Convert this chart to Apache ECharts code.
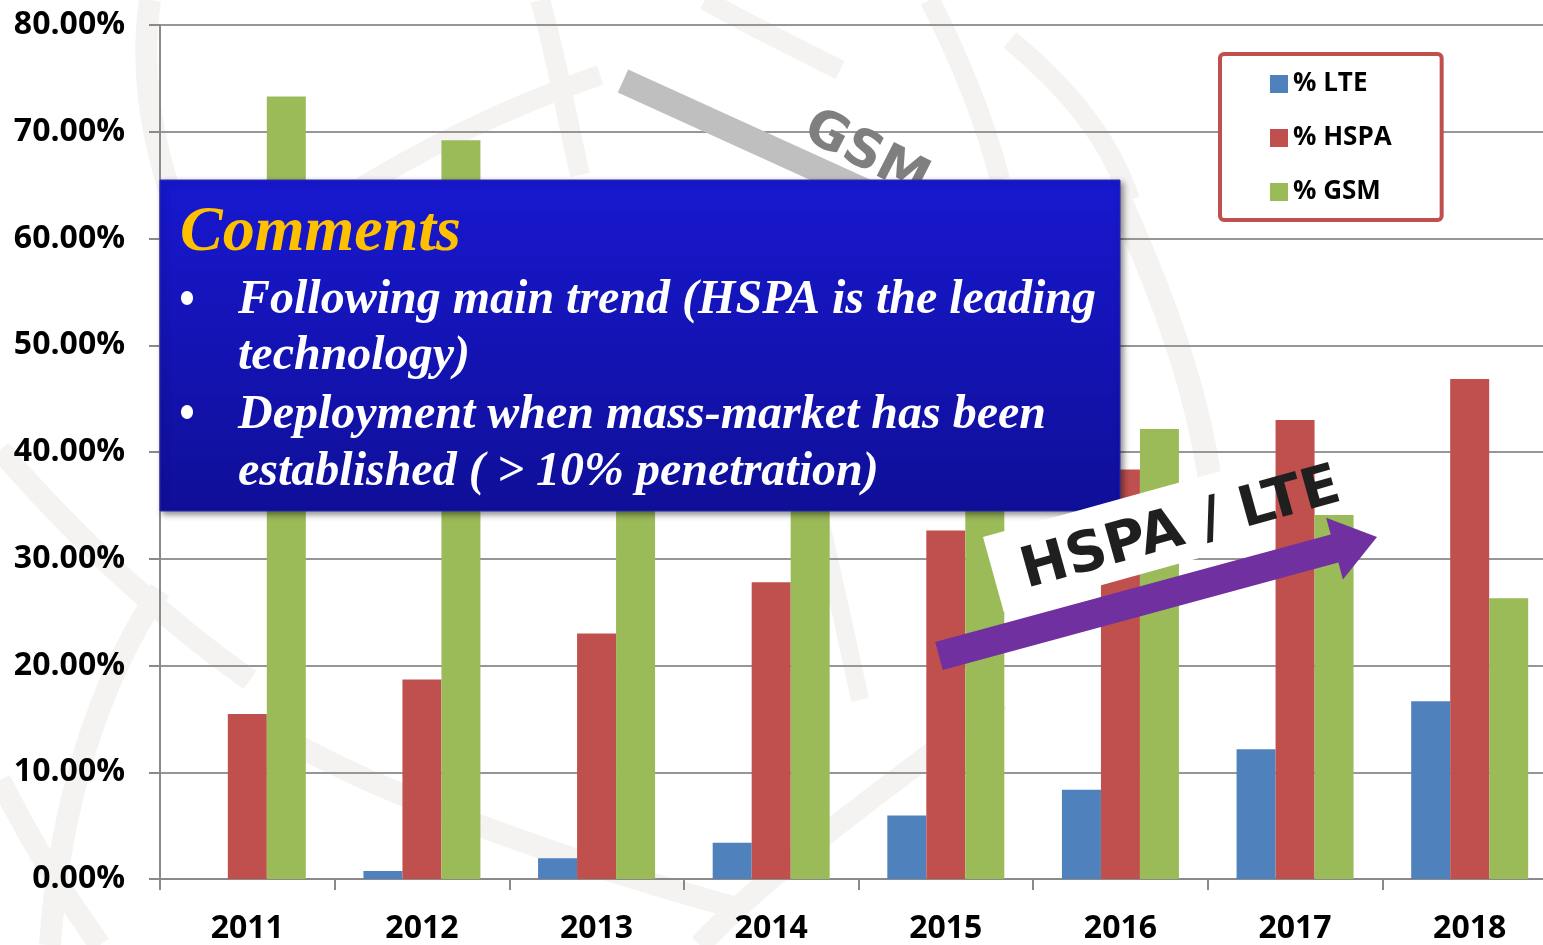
<!DOCTYPE html>
<html>
<head>
<meta charset="utf-8">
<script src="https://cdn.jsdelivr.net/npm/echarts@6/dist/echarts.min.js"></script>
<style>
html,body{margin:0;padding:0;background:#fff;overflow:hidden;width:1543px;height:945px;}
#chart{width:1557px;height:945px;}
</style>
</head>
<body>
<div id="chart"></div>
<script>
// ---- data ----
const years = ['2011','2012','2013','2014','2015','2016','2017','2018'];
const lteValues  = [0, 0.75, 1.95, 3.4, 5.95, 8.35, 12.15, 16.65];
const hspaValues = [15.45, 18.7, 23.0, 27.8, 32.65, 38.35, 43.0, 46.85];
const gsmValues  = [73.3, 69.2, 64.0, 57.7, 50.5, 42.15, 34.1, 26.3];
const seriesNames = ['% LTE', '% HSPA', '% GSM'];
const commentTitle = 'Comments';
const commentLines = [
  'Following main trend (HSPA is the leading',
  'technology)',
  'Deployment when mass-market has been',
  'established ( > 10% penetration)'
];
const gsmLabel = 'GSM';
const trendLabel = 'HSPA / LTE';

// ---- helpers ----
const chart = echarts.init(document.getElementById('chart'), null, {renderer: 'canvas'});
const deg = Math.PI / 180;
const wm = '#F4F3F1';

function arrowPoints(x1, y1, x2, y2, shaft, headLen, headW) {
  const dx = x2 - x1, dy = y2 - y1;
  const L = Math.sqrt(dx * dx + dy * dy);
  const ux = dx / L, uy = dy / L, nx = -uy, ny = ux;
  const bx = x2 - ux * headLen, by = y2 - uy * headLen;
  const s = shaft / 2, h = headW / 2;
  return [
    [x1 + nx * s, y1 + ny * s],
    [bx + nx * s, by + ny * s],
    [bx + nx * h, by + ny * h],
    [x2, y2],
    [bx - nx * h, by - ny * h],
    [bx - nx * s, by - ny * s],
    [x1 - nx * s, y1 - ny * s]
  ];
}

const serifFont = '"Liberation Serif", "Times New Roman", serif';
const sansBold = '"Open Sans", Lato, sans-serif';

function wmCurve(x1, y1, c1x, c1y, c2x, c2y, x2, y2, w) {
  return {type: 'bezierCurve', z: -10, silent: true,
    shape: {x1: x1, y1: y1, cpx1: c1x, cpy1: c1y, cpx2: c2x, cpy2: c2y, x2: x2, y2: y2},
    style: {stroke: wm, lineWidth: w || 20, fill: null}};
}

function bodyLine(text, baseline) {
  return {type: 'text', z: 61, x: 238, y: baseline - 12, silent: true,
    style: {text: text, x: 0, y: 0, fill: '#ffffff', fontSize: 48, fontStyle: 'italic', fontWeight: 'bold',
      fontFamily: serifFont, align: 'left', verticalAlign: 'middle'}};
}

const graphics = [
  // faint watermark (globe-like arcs)
  wmCurve(150, 0, 140, 70, 150, 140, 178, 215, 22),
  wmCurve(540, 0, 555, 50, 565, 110, 580, 175, 20),
  wmCurve(705, 0, 740, 20, 790, 45, 840, 70, 20),
  wmCurve(600, 75, 500, 110, 420, 150, 340, 200, 20),
  wmCurve(930, 0, 960, 60, 985, 120, 1000, 180, 20),
  wmCurve(1010, 40, 1070, 90, 1110, 140, 1130, 200, 20),
  wmCurve(1120, 200, 1160, 290, 1195, 380, 1210, 480, 24),
  wmCurve(0, 450, 60, 520, 150, 610, 250, 680, 22),
  wmCurve(160, 590, 100, 680, 60, 800, 50, 945, 22),
  wmCurve(0, 780, 30, 840, 60, 890, 100, 945, 22),
  wmCurve(300, 747, 400, 800, 560, 860, 744, 910, 22),
  wmCurve(1000, 700, 900, 780, 780, 860, 700, 945, 22),
  wmCurve(815, 500, 830, 560, 845, 630, 860, 700, 18),

  // GSM gray band (arrow shaft, head hidden beneath the comments box)
  {type: 'line', z: 50, shape: {x1: 623, y1: 81, x2: 900, y2: 207}, style: {stroke: '#BFBFBF', lineWidth: 25, lineCap: 'butt'}, silent: true},
  {type: 'text', z: 51, x: 866, y: 155, rotation: -27 * deg,
    style: {text: gsmLabel, x: 0, y: 0, fill: '#7F7F7F', fontSize: 52, fontWeight: 'bold', fontFamily: '"DejaVu Sans", sans-serif', align: 'center', verticalAlign: 'middle'}, silent: true},

  // Comments box
  {type: 'rect', z: 60, shape: {x: 160, y: 180, width: 960, height: 331},
    style: {
      fill: new echarts.graphic.LinearGradient(0, 0, 0, 1, [
        {offset: 0, color: '#1818D0'}, {offset: 1, color: '#0F0F98'}
      ]),
      stroke: '#2A2AB0', lineWidth: 1,
      shadowBlur: 6, shadowOffsetX: 3, shadowOffsetY: 3, shadowColor: 'rgba(0,0,0,0.45)'
    }, silent: true},
  {type: 'text', z: 61, x: 180, y: 252 - 19, silent: true,
    style: {text: commentTitle, x: 0, y: 0, fill: '#FFC000', fontSize: 64, fontStyle: 'italic', fontWeight: 'bold', fontFamily: serifFont, align: 'left', verticalAlign: 'middle'}},
  {type: 'ellipse', z: 61, shape: {cx: 187, cy: 298, rx: 6, ry: 7}, style: {fill: '#ffffff'}, silent: true},
  {type: 'ellipse', z: 61, shape: {cx: 187, cy: 412, rx: 6, ry: 7}, style: {fill: '#ffffff'}, silent: true},
  bodyLine(commentLines[0], 313),
  bodyLine(commentLines[1], 369),
  bodyLine(commentLines[2], 428),
  bodyLine(commentLines[3], 485),

  // HSPA / LTE white label
  {type: 'rect', z: 70, x: 983, y: 537, rotation: 15.5 * deg,
    shape: {x: 0, y: 0, width: 255, height: 78}, style: {fill: '#ffffff'}, silent: true},
  {type: 'text', z: 71, x: 1181, y: 530, rotation: 15.5 * deg,
    style: {text: trendLabel, x: 0, y: 0, fill: '#1F1F1F', fontSize: 56, fontWeight: 'bold', fontFamily: '"DejaVu Sans", sans-serif', align: 'center', verticalAlign: 'middle'}, silent: true},
  // purple arrow
  {type: 'polygon', z: 72, shape: {points: arrowPoints(939, 656, 1377, 537, 29, 44, 64)}, style: {fill: '#7030A0'}, silent: true}
];

const barCommon = {type: 'bar', barGap: '0%', barCategoryGap: '33%', z: 2};

const option = {
  backgroundColor: '#ffffff',
  animation: false,
  color: ['#4F81BD', '#C0504D', '#9BBB59'],
  grid: {left: 160, top: 25, right: 0, bottom: 64, containLabel: false},
  legend: {
    orient: 'vertical', left: 1220, top: 54,
    padding: [16, 50, 14, 50],
    itemGap: 26, itemWidth: 18, itemHeight: 18,
    icon: 'rect',
    borderColor: '#C0504D', borderWidth: 4, borderRadius: 4,
    backgroundColor: '#ffffff',
    textStyle: {fontSize: 26, fontWeight: 'bold', fontFamily: sansBold, color: '#000', lineHeight: 28},
    data: seriesNames
  },
  xAxis: {
    type: 'category', data: years,
    axisLine: {show: true, lineStyle: {color: '#8A8A8A', width: 2}},
    axisTick: {show: true, length: 11, alignWithLabel: false, lineStyle: {color: '#8A8A8A', width: 2}},
    axisLabel: {margin: 34, fontSize: 32, fontWeight: 'bold', fontFamily: sansBold, color: '#000'},
    splitLine: {show: false}
  },
  yAxis: {
    type: 'value', min: 0, max: 80, interval: 10,
    axisLine: {show: true, lineStyle: {color: '#8A8A8A', width: 2}},
    axisTick: {show: true, length: 11, lineStyle: {color: '#8A8A8A', width: 2}},
    axisLabel: {margin: 35, fontSize: 32, fontWeight: 'bold', fontFamily: sansBold, color: '#000',
      formatter: v => v.toFixed(2) + '%'},
    splitLine: {show: true, lineStyle: {color: '#969696', width: 2}}
  },
  series: [
    Object.assign({name: seriesNames[0], data: lteValues}, barCommon),
    Object.assign({name: seriesNames[1], data: hspaValues}, barCommon),
    Object.assign({name: seriesNames[2], data: gsmValues}, barCommon)
  ],
  graphic: graphics
};
chart.setOption(option);
</script>
</body>
</html>
